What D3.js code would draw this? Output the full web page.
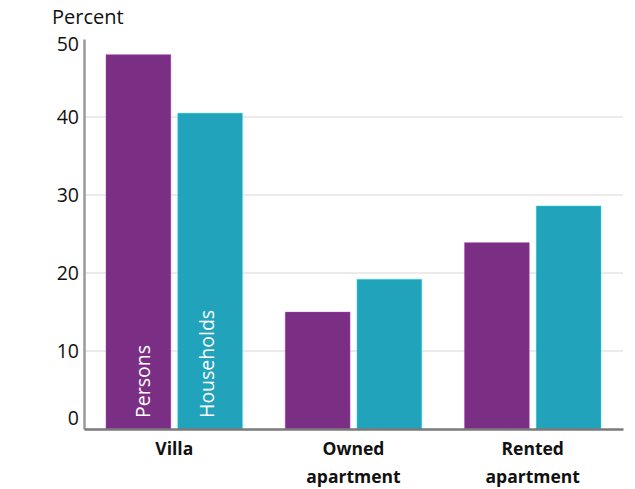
<!DOCTYPE html>
<html>
<head>
<meta charset="utf-8">
<script src="https://cdn.jsdelivr.net/npm/d3@7"></script>
<style>
  html, body { margin: 0; padding: 0; background: #fff; }
  svg { display: block; font-family: "Open Sans", "Noto Sans", sans-serif; }
</style>
</head>
<body>
<svg id="chart" width="635" height="489"></svg>
<script>
// Housing type shares, percent
const categories = ["Villa", "Owned apartment", "Rented apartment"];
const categoryLines = [["Villa"], ["Owned", "apartment"], ["Rented", "apartment"]];
const seriesNames = ["Persons", "Households"];
const persons = [48, 15, 23.9];
const households = [40.5, 19.2, 28.6];
const yTicks = [0, 10, 20, 30, 40, 50];
const colors = ["#7b2f84", "#21a3bb"];

const svg = d3.select("#chart");
const plotLeft = 84, plotRight = 623, plotTop = 39, plotBottom = 429;

const x0 = d3.scaleBand().domain(categories).range([plotLeft, plotRight])
  .paddingInner(0.238).paddingOuter(0.1225);
const x1 = d3.scaleBand().domain(seriesNames).range([0, x0.bandwidth()]).paddingInner(0.095);
const y = d3.scaleLinear().domain([0, 50]).range([plotBottom, plotTop]);

const rows = categories.map((c, i) => ({ cat: c, values: [persons[i], households[i]] }));

// Light horizontal gridlines
svg.append("g").selectAll("line")
  .data(yTicks.filter(t => t > 0 && t < 50))
  .join("line")
  .attr("x1", plotLeft).attr("x2", plotRight)
  .attr("y1", d => y(d)).attr("y2", d => y(d))
  .attr("stroke", "#e4e4e4").attr("stroke-width", 1.5);

// Bars
const groups = svg.append("g").selectAll("g")
  .data(rows).join("g")
  .attr("transform", d => `translate(${x0(d.cat)},0)`);

groups.selectAll("rect")
  .data(d => d.values.map((v, k) => ({ name: seriesNames[k], v, k })))
  .join("rect")
  .attr("x", d => x1(d.name))
  .attr("y", d => y(d.v))
  .attr("width", x1.bandwidth())
  .attr("height", d => y(0) - y(d.v))
  .attr("fill", d => colors[d.k])
  .attr("stroke", d => d3.color(colors[d.k]).brighter(1.2))
  .attr("stroke-opacity", 0.35)
  .attr("stroke-width", 1);

// Series names written inside the first group's bars
const nameShift = [4.5, -3.5];
svg.append("g").selectAll("text")
  .data(seriesNames)
  .join("text")
  .attr("transform", (d, k) => `translate(${x0(categories[0]) + x1(d) + x1.bandwidth() / 2 + nameShift[k] + 7},${plotBottom - 11}) rotate(-90)`)
  .attr("fill", "#fff")
  .attr("font-size", 19.5)
  .text(d => d);

// Y axis
const yAxis = d3.axisLeft(y).tickValues(yTicks).tickSize(0).tickPadding(5);
const yg = svg.append("g").attr("transform", `translate(${plotLeft},0)`).call(yAxis);
yg.select(".domain").attr("stroke", "#9a9a9a").attr("stroke-width", 2.5);
yg.selectAll(".tick text")
  .attr("font-size", 19.5)
  .attr("font-family", "'Open Sans', 'Noto Sans', sans-serif")
  .attr("fill", "#111")
  .attr("dy", d => d === 0 ? "-0.25em" : d === 50 ? "0.6em" : "0.32em");

// X axis
const xAxis = d3.axisBottom(x0).tickSize(0).tickFormat("");
const xg = svg.append("g").attr("transform", `translate(0,${plotBottom})`).call(xAxis);
xg.select(".domain").attr("stroke", "#7a7a7a").attr("stroke-width", 2.5);

// Category labels, bold, wrapped over two lines
const labels = svg.append("g").selectAll("text")
  .data(categories)
  .join("text")
  .attr("text-anchor", "middle")
  .attr("font-size", 17.5)
  .attr("font-weight", "bold")
  .attr("fill", "#111");
labels.each(function (c, i) {
  d3.select(this).selectAll("tspan")
    .data(categoryLines[i])
    .join("tspan")
    .attr("x", x0(c) + x0.bandwidth() / 2)
    .attr("y", (d, j) => 455 + j * 28)
    .text(d => d);
});

// Axis title
svg.append("text")
  .attr("x", 52).attr("y", 24)
  .attr("font-size", 20)
  .attr("fill", "#111")
  .text("Percent");
</script>
</body>
</html>
